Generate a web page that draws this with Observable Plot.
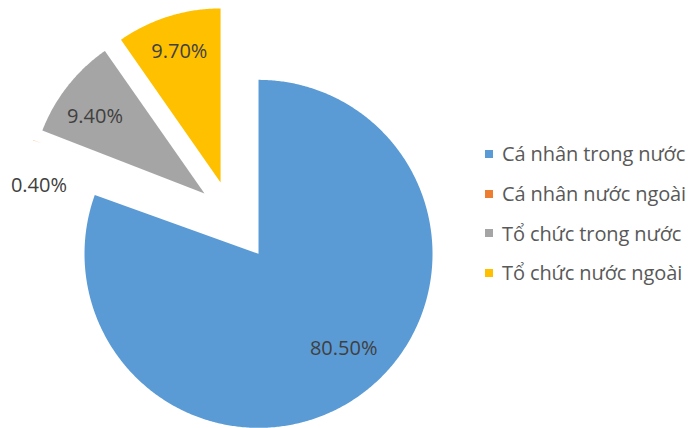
<!DOCTYPE html>
<html>
<head>
<meta charset="utf-8">
<script src="https://cdn.jsdelivr.net/npm/d3@7"></script>
<script src="https://cdn.jsdelivr.net/npm/@observablehq/plot@0.6"></script>
<style>
  html, body { margin: 0; padding: 0; background: #fff; overflow: hidden; }
  #wrap { position: relative; width: 690px; height: 428px; overflow: hidden; font-family: "Open Sans", "Noto Sans", sans-serif; }
  #legend { position: absolute; left: 485px; top: 134px; }
  .row { display: flex; align-items: center; height: 39.7px; }
  .sw { width: 8px; height: 8px; margin-right: 9px; }
  .lt { font-size: 20px; color: #595959; white-space: nowrap; letter-spacing: -0.1px; }
</style>
</head>
<body>
<div id="wrap"></div>
<script>
// ---- data ----
const categories = ["Cá nhân trong nước", "Cá nhân nước ngoài", "Tổ chức trong nước", "Tổ chức nước ngoài"];
const shares = [80.5, 0.4, 9.4, 9.7];
const labels = ["80.50%", "0.40%", "9.40%", "9.70%"];
const colors = ["#5B9BD5", "#ED7D31", "#A5A5A5", "#FFC000"];

// ---- style / layout ----
const explode = [0.28, 1.155, 0.19, 0.19];          // radial offset per slice (radius units)
const labelRadius = [0.73, 0.242, 0.77, 0.79];      // label distance from slice tip
const labelAngleShift = [-7, -106, -3, 0];          // degrees
const W = 690, H = 428, cx = 230, cy = 213.5, R = 174, plotLeft = 33;

const rows = categories.map((c, i) => ({name: c, share: shares[i], label: labels[i]}));
const arcs = d3.pie().sort(null).value(d => d.share)(rows);

const pts = [];
const labelPts = [];
arcs.forEach((a, i) => {
  const mid = (a.startAngle + a.endAngle) / 2;
  const ox = explode[i] * Math.sin(mid), oy = explode[i] * Math.cos(mid);
  const name = a.data.name;
  pts.push({name, x: ox, y: oy});
  const n = Math.max(2, Math.ceil((a.endAngle - a.startAngle) * 120));
  for (let k = 0; k <= n; k++) {
    const t = a.startAngle + (a.endAngle - a.startAngle) * k / n;
    pts.push({name, x: ox + Math.sin(t), y: oy + Math.cos(t)});
  }
  pts.push({name, x: ox, y: oy});
  const la = mid + labelAngleShift[i] * Math.PI / 180;
  labelPts.push({label: a.data.label, x: ox + labelRadius[i] * Math.sin(la), y: oy + labelRadius[i] * Math.cos(la)});
});

const chart = Plot.plot({
  width: W, height: H,
  marginTop: 0, marginRight: 0, marginBottom: 0, marginLeft: plotLeft,
  style: {fontFamily: '"Open Sans", "Noto Sans", sans-serif', background: "#fff", overflow: "hidden"},
  x: {domain: [(plotLeft - cx) / R, (W - cx) / R], range: [plotLeft, W], axis: null},
  y: {domain: [-(H - cy) / R, cy / R], range: [H, 0], axis: null},
  color: {domain: categories, range: colors},
  marks: [
    Plot.line(pts, {x: "x", y: "y", z: "name", fill: "name", stroke: "none", curve: "linear", clip: true}),
    Plot.text(labelPts, {x: "x", y: "y", text: "label", fontSize: 20, fill: "#404040"})
  ]
});
const wrap = document.getElementById("wrap");
wrap.appendChild(chart);

const legend = document.createElement("div");
legend.id = "legend";
categories.forEach((c, i) => {
  const r = document.createElement("div");
  r.className = "row";
  const s = document.createElement("div");
  s.className = "sw"; s.style.background = colors[i];
  const t = document.createElement("span");
  t.className = "lt"; t.textContent = c;
  r.appendChild(s); r.appendChild(t);
  legend.appendChild(r);
});
wrap.appendChild(legend);
</script>
</body>
</html>
